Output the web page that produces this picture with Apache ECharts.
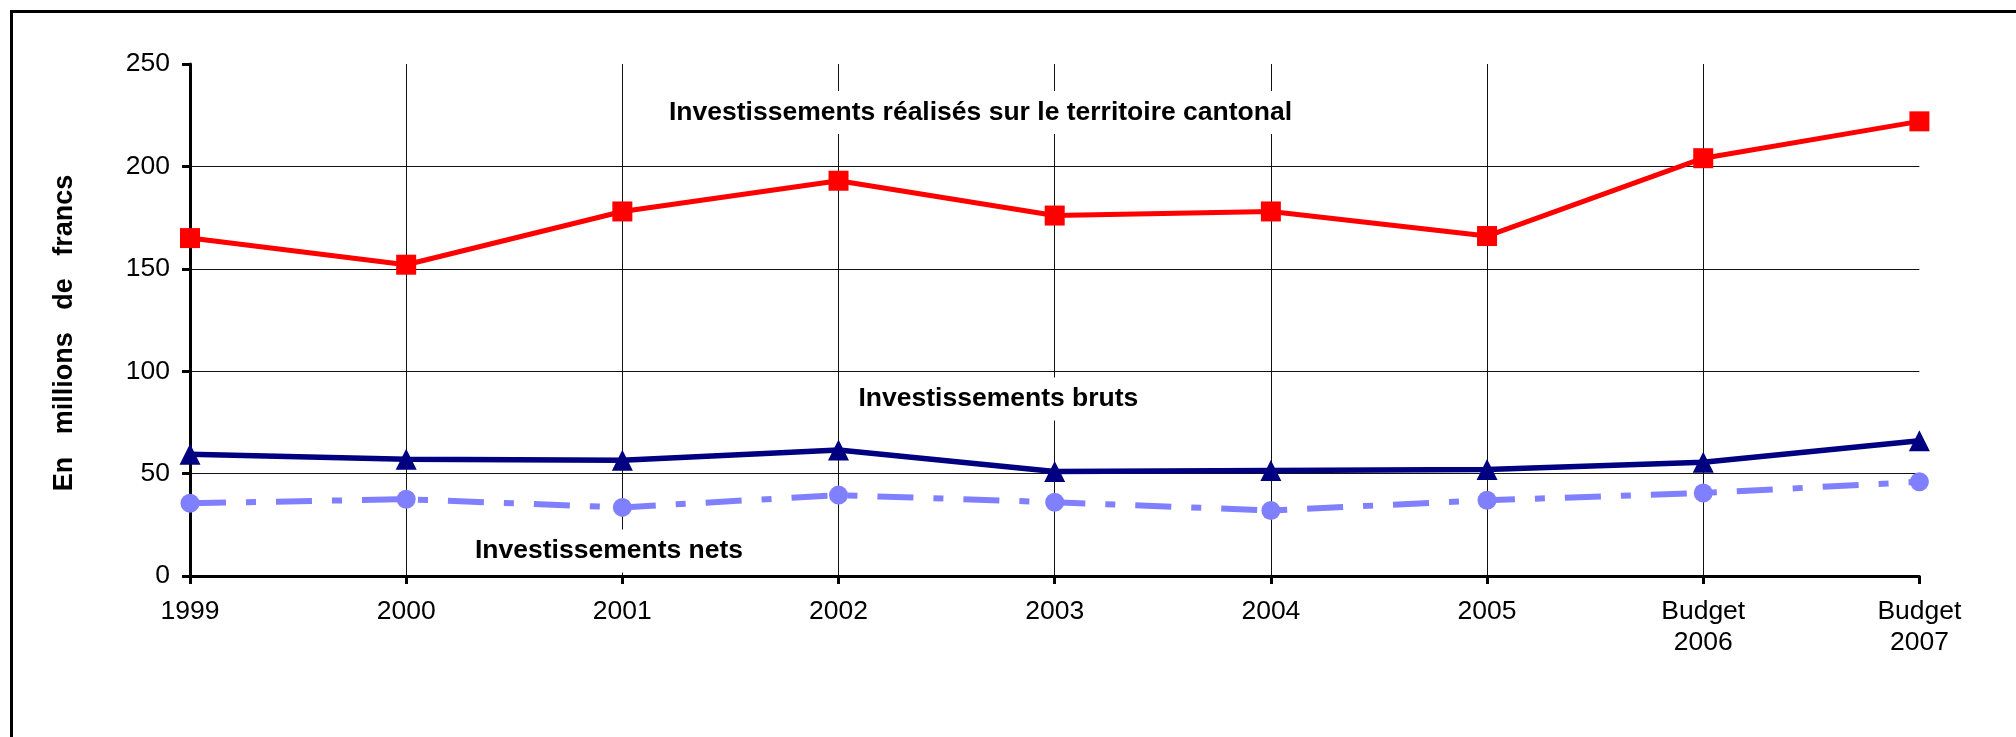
<!DOCTYPE html>
<html>
<head>
<meta charset="utf-8">
<script src="https://cdn.jsdelivr.net/npm/echarts@6/dist/echarts.min.js"></script>
<style>
  html, body { margin: 0; padding: 0; background: #fff; overflow: hidden; }
  #chart { width: 2016px; height: 737px; }
</style>
</head>
<body>
<div id="chart"></div>
<script>
const categories = ['1999', '2000', '2001', '2002', '2003', '2004', '2005', 'Budget\n2006', 'Budget\n2007']
const realises = [165, 152, 178, 193, 176, 178, 166, 204, 222]
const bruts = [59.5, 57, 56.5, 61.5, 51, 51.5, 52, 55.5, 66]
const nets = [35.5, 37.5, 33.5, 39.5, 36, 32, 37, 40.5, 46]
const yMin = 0, yMax = 250, yStep = 50

const FONT = '"Liberation Sans", Arial, sans-serif'
const chart = echarts.init(document.getElementById('chart'))

const label = (text, x, y) => ({
  type: 'text', x, y, z: 100,
  style: {
    text, fontFamily: FONT, fontSize: 26.5, fontWeight: 'bold', fill: '#000',
    backgroundColor: '#fff', padding: [8, 4], align: 'left', verticalAlign: 'middle',
  },
})

chart.setOption({
  animation: false,
  backgroundColor: '#fff',
  grid: { left: 190, right: 96.6, top: 64, bottom: 161, outerBoundsMode: 'none' },
  xAxis: {
    type: 'category',
    data: categories,
    boundaryGap: false,
    axisLine: { lineStyle: { color: '#000', width: 3 } },
    axisTick: { length: 8, lineStyle: { color: '#000', width: 3 } },
    axisLabel: { color: '#000', fontFamily: FONT, fontSize: 26.5, lineHeight: 31, margin: 20, interval: 0 },
    splitLine: { show: true, showMaxLine: false, lineStyle: { color: '#111', width: 1 } },
  },
  yAxis: {
    type: 'value',
    min: yMin, max: yMax, interval: yStep,
    axisLine: { show: true, lineStyle: { color: '#000', width: 3 } },
    axisTick: { show: true, length: 8, lineStyle: { color: '#000', width: 3 } },
    axisLabel: { color: '#000', fontFamily: FONT, fontSize: 26.5, margin: 20 },
    splitLine: { show: true, showMaxLine: false, lineStyle: { color: '#111', width: 1 } },
  },
  graphic: [
    {
      type: 'rect', z: -10, silent: true,
      shape: { x: 11.5, y: 11.5, width: 2200, height: 900 },
      style: { fill: 'none', stroke: '#000', lineWidth: 3 },
    },
    {
      type: 'text', x: 65, y: 333, rotation: Math.PI / 2, z: 100,
      style: {
        text: 'En   millions   de   francs', fontFamily: FONT, fontSize: 27, fontWeight: 'bold',
        fill: '#000', align: 'center', verticalAlign: 'middle',
      },
    },
    label('Investissements réalisés sur le territoire cantonal', 665, 112.5),
    label('Investissements bruts', 854.5, 399),
    label('Investissements nets', 471, 551),
  ],
  series: [
    {
      name: 'Investissements réalisés sur le territoire cantonal',
      type: 'line', data: realises,
      symbol: 'rect', symbolSize: 20,
      lineStyle: { color: '#ff0000', width: 5 },
      itemStyle: { color: '#ff0000' },
    },
    {
      name: 'Investissements bruts',
      type: 'line', data: bruts,
      symbol: 'triangle', symbolSize: 21,
      lineStyle: { color: '#000080', width: 5.5 },
      itemStyle: { color: '#000080' },
    },
    {
      name: 'Investissements nets',
      type: 'line', data: nets,
      symbol: 'circle', symbolSize: 19,
      lineStyle: { color: '#8080ff', width: 6, type: [36, 20, 10, 20], cap: 'butt' },
      itemStyle: { color: '#8080ff' },
    },
  ],
})
</script>
</body>
</html>
